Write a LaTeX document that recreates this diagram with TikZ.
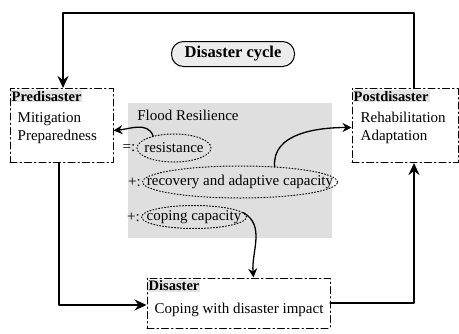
\documentclass[tikz,border=0pt]{standalone}
\usepackage{fontspec}
\setmainfont{Liberation Serif}
\usetikzlibrary{shapes.geometric,arrows.meta}
\tikzset{
  phase/.style={draw,line width=1pt,dash pattern=on 7pt off 3pt on 1.5pt off 3pt},
  head/.style={fill=gray!20,inner sep=1pt,font=\fontsize{14.5}{16}\selectfont\bfseries},
  items/.style={align=left,inner sep=0pt},
  ring/.style={ellipse,draw,dotted,line width=1pt,inner sep=0pt},
  flow/.style={line width=2.5pt,-{Stealth[length=12pt,width=11pt,inset=4pt]}},
  swing/.style={line width=1.3pt,-{Stealth[length=9pt,width=9pt,inset=3pt]}}
}
\begin{document}
\begin{tikzpicture}[x=1pt,y=-1pt,line cap=round,line join=round,font=\fontsize{15}{18}\selectfont]
\useasboundingbox (0,0) rectangle (459,333);
\fill[gray!25] (128,103) rectangle (332,238);
\node[draw,line width=1pt,rounded corners=12pt,fill=gray!15,minimum width=123pt,minimum height=25pt,inner sep=1pt,font=\fontsize{16.5}{18}\selectfont\bfseries] (cycle) at (233,54) {Disaster cycle};
\node[phase,minimum width=103pt,minimum height=74pt] (pre) at (61.5,125.5) {};
\node[phase,minimum width=106pt,minimum height=74pt] (post) at (405,125.5) {};
\node[phase,minimum width=183pt,minimum height=50pt] (dis) at (238.5,303) {};
\node[head,anchor=north west] (pretitle) at ([shift={(1pt,-2pt)}]pre.north west) {Predisaster};
\node[head,anchor=north west] (posttitle) at ([shift={(1pt,-2pt)}]post.north west) {Postdisaster};
\node[head,anchor=north west] (distitle) at ([shift={(1pt,-2pt)}]dis.north west) {Disaster};
\node[items,anchor=north west] (preitems) at ([shift={(8pt,-24pt)}]pre.north west) {Mitigation\\Preparedness};
\node[items,anchor=north west] (postitems) at ([shift={(9pt,-24pt)}]post.north west) {Rehabilitation\\Adaptation};
\node[items,anchor=north west] (disitems) at ([shift={(8pt,-25pt)}]dis.north west) {Coping with disaster impact};
\node (flood) at (188,115) {Flood Resilience};
\node[ring,minimum width=74pt,minimum height=28pt] (res) at (174,148) {};
\node[ring,minimum width=195pt,minimum height=32pt] (rec) at (240,182) {};
\node[ring,minimum width=105pt,minimum height=23pt] (cop) at (194,217) {};
\node (restext) at (res) {resistance};
\node (rectext) at (rec) {recovery and adaptive capacity};
\node (coptext) at (cop) {coping capacity};
\node[anchor=east,inner sep=1pt] (resop) at (res.west) {=:};
\node[anchor=east,inner sep=1pt] (recop) at (rec.west) {+:};
\node[anchor=east,inner sep=1pt] (copop) at (cop.west) {+:};
\coordinate (tr) at (414,13);
\coordinate (tl) at (63,13);
\coordinate (bl) at (59,305);
\coordinate (br) at (414,303);
\draw[flow] (post.north -| tr) -- (tr) -- (tl) -- (pre.north -| tl);
\draw[flow] (pre.south -| bl) -- (bl) -- (dis.west |- bl);
\draw[flow] (dis.east |- br) -- (br) -- (post.south -| br);
\draw[swing] (res.150) to[out=110,in=5] ([yshift=-5pt]pre.east);
\draw[swing] (rec.24) to[out=95,in=180] ([yshift=-2pt]post.west);
\draw[swing] (cop.5) to[out=-30,in=95] ([xshift=15pt]dis.north);
\end{tikzpicture}
\end{document}
